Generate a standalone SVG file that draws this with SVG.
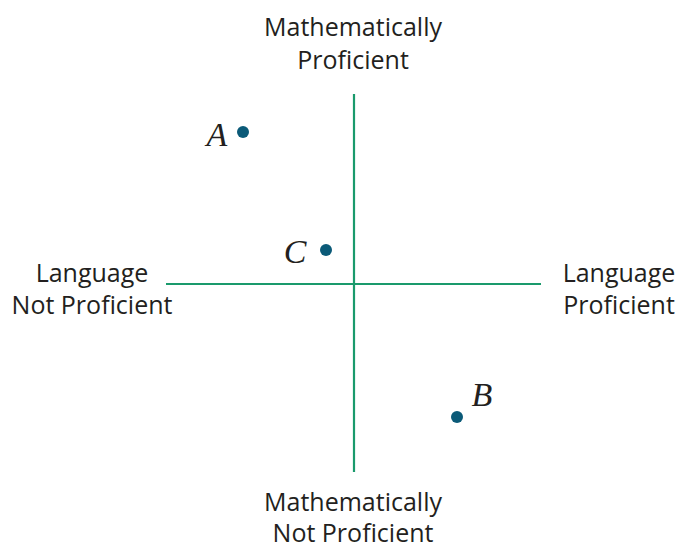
<svg xmlns="http://www.w3.org/2000/svg" width="679" height="550" viewBox="0 0 679 550">
<style>
.lbl{font-family:"Open Sans","Noto Sans","Liberation Sans",sans-serif;font-size:25px;fill:#231f20;text-anchor:middle}
.pt{font-family:"Liberation Serif",serif;font-style:italic;font-size:34px;fill:#231f20;text-anchor:middle}
.axis{stroke:#1a9a6c;stroke-width:2.2;fill:none}
.dot{fill:#0b5a78}
</style>
<rect width="679" height="550" fill="#fff"/>
<g id="axes">
<line class="axis" x1="354" y1="94" x2="354" y2="472"/>
<line class="axis" x1="166" y1="284" x2="541" y2="284"/>
</g>
<g id="top"><text class="lbl" x="353" y="36">Mathematically</text><text class="lbl" x="353" y="69">Proficient</text></g>
<g id="bottom"><text class="lbl" x="353" y="511">Mathematically</text><text class="lbl" x="353" y="542">Not Proficient</text></g>
<g id="left"><text class="lbl" x="92" y="282">Language</text><text class="lbl" x="92" y="314">Not Proficient</text></g>
<g id="right"><text class="lbl" x="619" y="282">Language</text><text class="lbl" x="619" y="314">Proficient</text></g>
<g id="A"><circle class="dot" cx="243" cy="132" r="6"/><text class="pt" x="217" y="146">A</text></g>
<g id="C"><circle class="dot" cx="326" cy="250" r="6"/><text class="pt" x="295" y="263">C</text></g>
<g id="B"><circle class="dot" cx="457" cy="417" r="6"/><text class="pt" x="482" y="406">B</text></g>
</svg>
